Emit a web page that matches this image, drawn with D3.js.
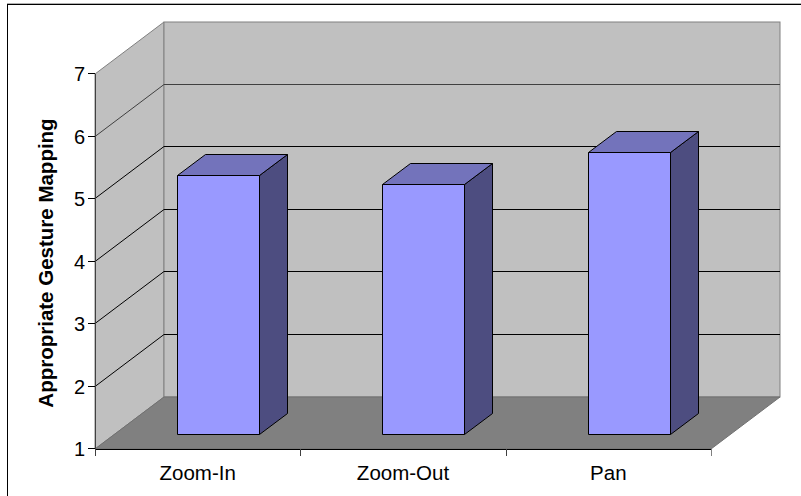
<!DOCTYPE html>
<html>
<head>
<meta charset="utf-8">
<script src="https://cdn.jsdelivr.net/npm/d3@7/dist/d3.min.js"></script>
<style>
html,body{margin:0;padding:0;background:#fff;overflow:hidden}
svg{display:block}
text{font-family:"Liberation Sans",Arial,sans-serif;fill:#000}
</style>
</head>
<body>
<svg id="chart" width="801" height="496"></svg>
<script>
const categories = ["Zoom-In", "Zoom-Out", "Pan"];
const values = [5.14, 5.0, 5.51];
const yTicks = [1, 2, 3, 4, 5, 6, 7];
const yTitle = "Appropriate Gesture Mapping";

const svg = d3.select("#chart");

// Oblique projection: the floor runs back by depthX/depthY from the front edge
const depthX = 69, depthY = 52;
const barDepthX = 28, barDepthY = 21;

const y = d3.scaleLinear().domain([1, 7]).range([449, 74]);
const x = d3.scaleBand().domain(categories).range([95, 711]).paddingInner(0.6).paddingOuter(0.3);

const pts = a => a.map(p => p.join(",")).join(" ");
const crisp = v => Math.round(v) + 0.5;
const wallStroke = "#808080";

// Chart frame, which runs off the right and bottom of the page
svg.append("line").attr("x1", 7).attr("x2", 801).attr("y1", 3.5).attr("y2", 3.5).attr("stroke", "#b0b0b0");
svg.append("rect").attr("x", 7.5).attr("y", 4.5).attr("width", 820).attr("height", 520)
  .attr("fill", "#fff").attr("stroke", "#000").attr("stroke-width", 1);

// Side wall
svg.append("polygon")
  .attr("points", pts([[95, y(1)], [95, y(7)], [95 + depthX, y(7) - depthY], [95 + depthX, y(1) - depthY]]))
  .attr("fill", "#c0c0c0").attr("stroke", wallStroke);

// Back wall
svg.append("rect")
  .attr("x", 95 + depthX).attr("y", y(7) - depthY)
  .attr("width", 711 - 95).attr("height", y(1) - y(7))
  .attr("fill", "#c0c0c0").attr("stroke", wallStroke);

// Floor
svg.append("polygon")
  .attr("points", pts([[95, y(1)], [711, y(1)], [711 + depthX, y(1) - depthY], [95 + depthX, y(1) - depthY]]))
  .attr("fill", "#808080").attr("stroke", "#707070");

// Gridlines across side wall and back wall
const grid = svg.append("g").attr("fill", "none").attr("stroke", "#000").attr("stroke-width", 1);
yTicks.filter(t => t > 1 && t < 7).forEach(t => {
  const yy = Math.round(y(t)) - 0.5;
  grid.append("polyline")
    .attr("points", pts([[95, yy], [95 + depthX, yy - depthY], [711 + depthX, yy - depthY]]))
    .attr("stroke", t === 6 ? "#404040" : "#000");
});

// Axes
const axisLeft = svg.append("g");
axisLeft.append("line").attr("x1", 95.5).attr("x2", 95.5).attr("y1", y(7)).attr("y2", y(1))
  .attr("stroke", "#404040");
axisLeft.selectAll("line.tick").data(yTicks).join("line").attr("class", "tick")
  .attr("x1", 88).attr("x2", 95)
  .attr("y1", d => Math.round(y(d)) - 0.5).attr("y2", d => Math.round(y(d)) - 0.5)
  .attr("stroke", "#000");
axisLeft.selectAll("text").data(yTicks).join("text")
  .attr("x", 85).attr("y", d => y(d) + 7)
  .attr("text-anchor", "end").attr("font-size", 20)
  .text(d => d);

const axisBottom = svg.append("g");
axisBottom.append("line").attr("x1", 95).attr("x2", 711).attr("y1", 449.5).attr("y2", 449.5)
  .attr("stroke", "#000");
d3.range(categories.length + 1).forEach(i => {
  const xx = crisp(95 + i * x.step());
  axisBottom.append("line").attr("x1", xx).attr("x2", xx).attr("y1", 449).attr("y2", 456)
    .attr("stroke", i === categories.length ? "#808080" : "#404040");
});
axisBottom.selectAll("text").data(categories).join("text")
  .attr("x", (d, i) => 95 + (i + 0.5) * x.step())
  .attr("y", 480)
  .attr("text-anchor", "middle").attr("font-size", 20.5)
  .text(d => d);

// Bars stand in the middle of the floor's depth
const insetX = (depthX - barDepthX) / 2, insetY = (depthY - barDepthY) / 2;
const bars = svg.append("g").attr("stroke", "#000").attr("stroke-width", 1).attr("stroke-linejoin", "round");
categories.forEach((c, i) => {
  const x0 = crisp(x(c) + insetX), x1 = x0 + Math.round(x.bandwidth());
  const yb = crisp(y(1) - insetY), yt = crisp(y(values[i]) - insetY);
  bars.append("polygon")
    .attr("points", pts([[x1, yb], [x1, yt], [x1 + barDepthX, yt - barDepthY], [x1 + barDepthX, yb - barDepthY]]))
    .attr("fill", "#4d4d80");
  bars.append("polygon")
    .attr("points", pts([[x0, yt], [x1, yt], [x1 + barDepthX, yt - barDepthY], [x0 + barDepthX, yt - barDepthY]]))
    .attr("fill", "#7373bb");
  bars.append("rect")
    .attr("x", x0).attr("y", yt).attr("width", x1 - x0).attr("height", yb - yt)
    .attr("fill", "#9999ff");
});

// Value axis title
svg.append("text")
  .attr("transform", "translate(53,263) rotate(-90)")
  .attr("text-anchor", "middle").attr("font-size", 20.5).attr("font-weight", "bold")
  .text(yTitle);
</script>
</body>
</html>
